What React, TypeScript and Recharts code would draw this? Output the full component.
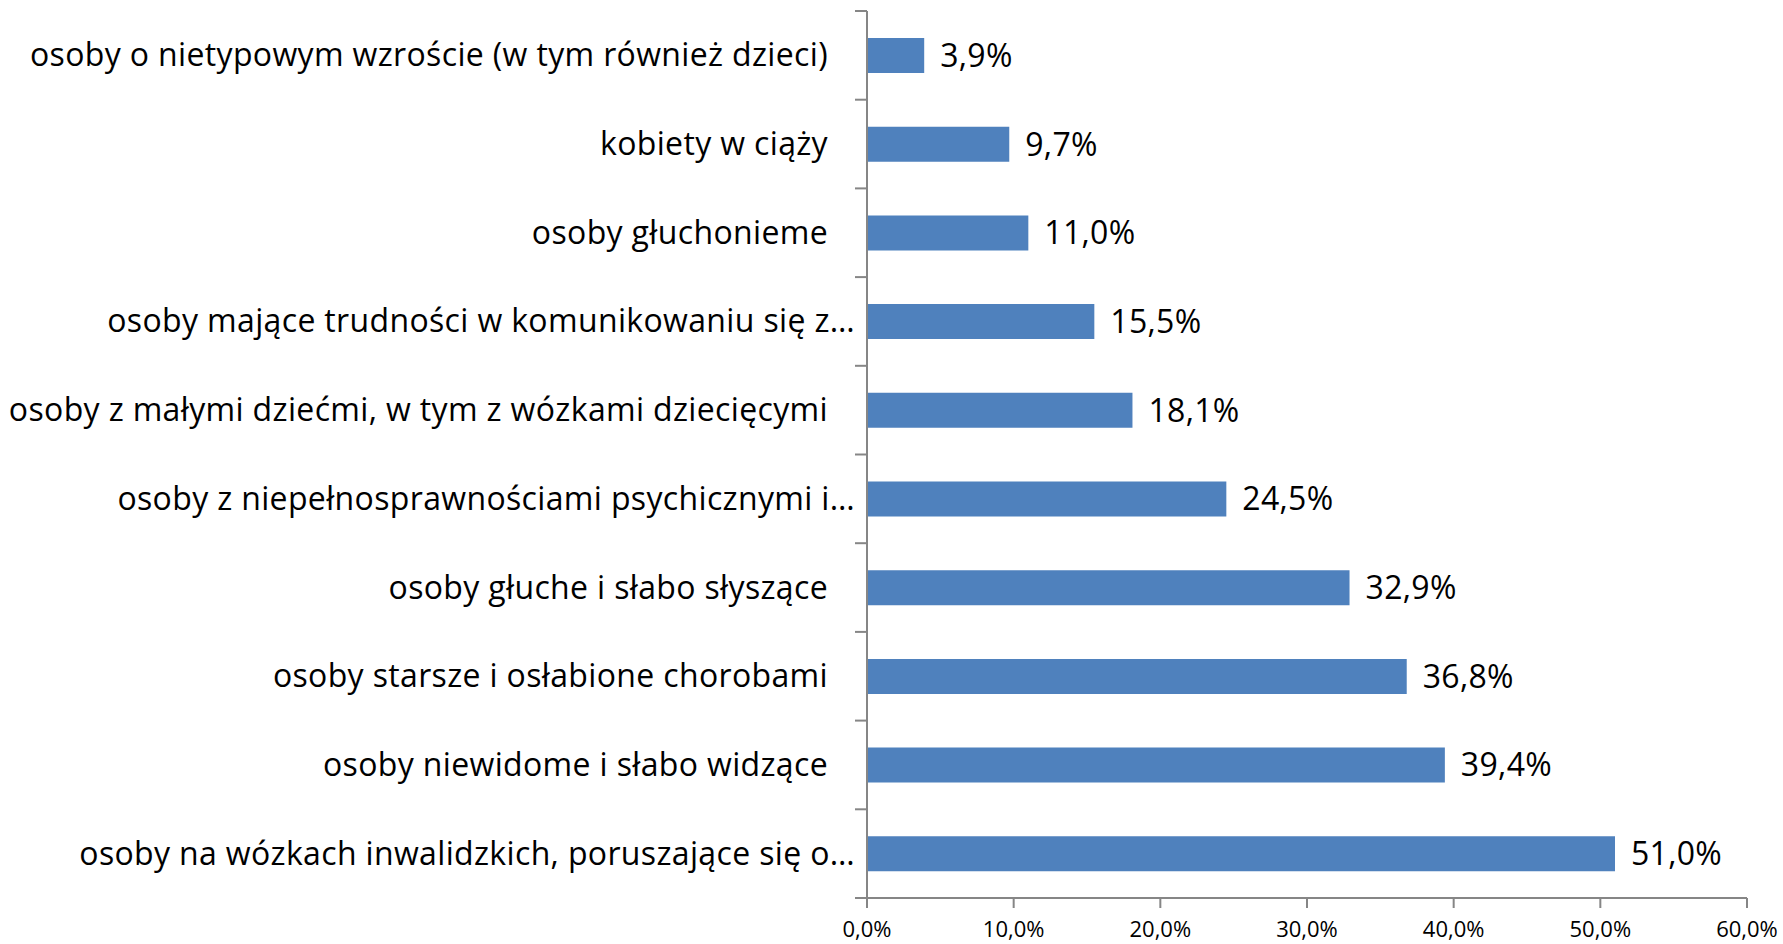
import React from "react";
import {
  BarChart,
  Bar,
  XAxis,
  YAxis,
  LabelList,
} from "recharts";

const categories: string[] = [
  "osoby o nietypowym wzroście (w tym również dzieci)",
  "kobiety w ciąży",
  "osoby głuchonieme",
  "osoby mające trudności w komunikowaniu się z…",
  "osoby z małymi dziećmi, w tym z wózkami dziecięcymi",
  "osoby z niepełnosprawnościami psychicznymi i…",
  "osoby głuche i słabo słyszące",
  "osoby starsze i osłabione chorobami",
  "osoby niewidome i słabo widzące",
  "osoby na wózkach inwalidzkich, poruszające się o…",
];

const values: number[] = [3.9, 9.7, 11.0, 15.5, 18.1, 24.5, 32.9, 36.8, 39.4, 51.0];

const xTicks: number[] = [0, 10, 20, 30, 40, 50, 60];

const data = categories.map((name, i) => ({ name, value: values[i] }));

// layout
const WIDTH = 1783;
const HEIGHT = 944;
const TOP = 11;
const X_AXIS_H = 46;
const PLOT_H = HEIGHT - TOP - X_AXIS_H;
const BAND = PLOT_H / categories.length;
const AXIS_COLOR = "#868686";
const FONT = "'Open Sans', 'Noto Sans', sans-serif";

const pct = (v: number) => `${v.toFixed(1).replace(".", ",")}%`;

const CategoryTick = (props: any) => {
  const { x, y, payload, index } = props;
  const label: string = payload.value;
  // Excel leaves extra padding after labels that are not truncated
  const tx = label.endsWith("…") ? x - 12 : x - 39;
  return (
    <g>
      <line x1={x - 12} y1={y - BAND / 2} x2={x} y2={y - BAND / 2} stroke={AXIS_COLOR} strokeWidth={2} />
      {index === categories.length - 1 && (
        <line x1={x - 12} y1={y + BAND / 2} x2={x} y2={y + BAND / 2} stroke={AXIS_COLOR} strokeWidth={2} />
      )}
      <text
        x={tx}
        y={y}
        dy={11}
        textAnchor="end"
        fontSize={32}
        letterSpacing={0.35}
        fontFamily={FONT}
        fill="#000"
      >
        {label}
      </text>
    </g>
  );
};

export default function App() {
  return (
    <div style={{ position: "absolute", left: 0, top: 0, background: "#fff" }}>
      <BarChart
        width={WIDTH}
        height={HEIGHT}
        data={data}
        layout="vertical"
        margin={{ top: TOP, right: 36, left: 0, bottom: 0 }}
      >
        <XAxis
          type="number"
          domain={[0, 60]}
          ticks={xTicks}
          tickFormatter={pct}
          height={X_AXIS_H}
          stroke={AXIS_COLOR}
          strokeWidth={2}
          tickSize={10}
          tickMargin={13}
          tick={{ fill: "#000", fontSize: 22, fontFamily: FONT }}
          interval={0}
        />
        <YAxis
          type="category"
          dataKey="name"
          width={867}
          stroke={AXIS_COLOR}
          strokeWidth={2}
          tickLine={false}
          tickSize={0}
          tickMargin={0}
          tick={<CategoryTick />}
          interval={0}
        />
        <Bar dataKey="value" fill="#4F81BD" barSize={35} isAnimationActive={false}>
          <LabelList
            dataKey="value"
            position="right"
            offset={16}
            formatter={(v: any) => pct(Number(v))}
            style={{ fontSize: 32, letterSpacing: 0.3, fontFamily: FONT, fill: "#000" }}
          />
        </Bar>
      </BarChart>
    </div>
  );
}
